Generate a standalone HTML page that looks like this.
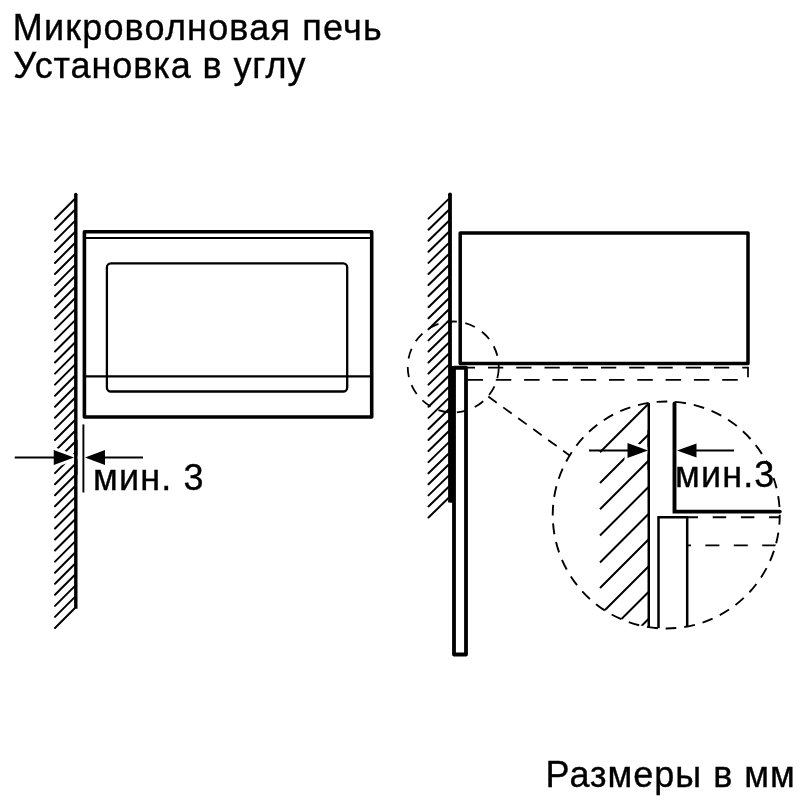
<!DOCTYPE html><html><head><meta charset="utf-8"><style>html,body{margin:0;padding:0;background:#fff;width:800px;height:800px;overflow:hidden}svg{display:block;will-change:transform}text{font-family:"Liberation Sans",sans-serif;fill:#000;stroke:#000;stroke-width:0.35px}</style></head><body>
<svg width="800" height="800" viewBox="0 0 800 800">
<rect width="800" height="800" fill="#fff"/>
<text x="12.8" y="40.2" font-size="36" letter-spacing="1.18">Микроволновая печь</text>
<text x="13.3" y="77.8" font-size="36" letter-spacing="0.9">Установка в углу</text>
<text x="545.6" y="786.8" font-size="36" letter-spacing="1">Размеры в мм</text>
<text x="93" y="489.5" font-size="36" letter-spacing="1.15">мин. 3</text>
<text x="675" y="486.5" font-size="36" letter-spacing="1.15">мин.3</text>
<g stroke="#000" fill="none">
<path d="M55 218.75L74.5 199.25M55 229.81L74.5 210.31M55 240.87L74.5 221.37M55 251.93L74.5 232.43M55 262.99L74.5 243.49M55 274.05L74.5 254.55M55 285.11L74.5 265.61M55 296.17L74.5 276.67M55 307.23L74.5 287.73M55 318.29L74.5 298.79M55 329.35L74.5 309.85M55 340.41L74.5 320.91M55 351.47L74.5 331.97M55 362.53L74.5 343.03M55 373.59L74.5 354.09M55 384.65L74.5 365.15M55 395.71L74.5 376.21M55 406.77L74.5 387.27M55 417.83L74.5 398.33M55 428.89L74.5 409.39M55 439.95L74.5 420.45M55 451.01L74.5 431.51M55 462.07L74.5 442.57M55 473.13L74.5 453.63M55 484.19L74.5 464.69M55 495.25L74.5 475.75M55 506.31L74.5 486.81M55 517.37L74.5 497.87M55 528.43L74.5 508.93M55 539.49L74.5 519.99M55 550.55L74.5 531.05M55 561.61L74.5 542.11M55 572.67L74.5 553.17M55 583.73L74.5 564.23M55 594.79L74.5 575.29M55 605.85L74.5 586.35M55 616.91L74.5 597.41M55 627.97L74.5 608.47" stroke-width="2" stroke-linecap="round"/>
<path d="M75.8 194.5V608.75" stroke-width="3.4"/><circle cx="75.8" cy="194.5" r="1.7" fill="#000" stroke="none"/>
<rect x="84.4" y="231.8" width="287.3" height="185.2" stroke-width="3.6" stroke-linejoin="round"/>
<path d="M84.4 238.1H371.7" stroke-width="2"/>
<rect x="106.9" y="263.4" width="240.3" height="128.1" rx="4" stroke-width="2.3"/>
<path d="M84.4 376.3H371.7" stroke-width="2.3"/>
<path d="M83.4 424.4V492.5" stroke-width="1.9"/>
</g>
<path d="M74 457.5L53.75 450V465Z" fill="#fff" stroke="#fff" stroke-width="6"/>
<path d="M75.8 440V475" stroke="#000" stroke-width="3.4"/>
<path d="M14.75 457.5H60M90 457.5H143" stroke="#000" stroke-width="2"/>
<path d="M74 457.5L53.75 450V465Z" fill="#000"/>
<path d="M85 457.5L105 450V465Z" fill="#000"/>
<g stroke="#000" fill="none">
<path d="M428.5 218.60L448.5 199.10M428.5 229.67L448.5 210.17M428.5 240.74L448.5 221.24M428.5 251.81L448.5 232.31M428.5 262.88L448.5 243.38M428.5 273.95L448.5 254.45M428.5 285.02L448.5 265.52M428.5 296.09L448.5 276.59M428.5 307.16L448.5 287.66M428.5 318.23L448.5 298.73M428.5 329.30L448.5 309.80M428.5 340.37L448.5 320.87M428.5 351.44L448.5 331.94M428.5 362.51L448.5 343.01M428.5 373.58L448.5 354.08M428.5 384.65L448.5 365.15M428.5 395.72L448.5 376.22M428.5 406.79L448.5 387.29M428.5 417.86L448.5 398.36M428.5 428.93L448.5 409.43M428.5 440.00L448.5 420.50M428.5 451.07L448.5 431.57M428.5 462.14L448.5 442.64M428.5 473.21L448.5 453.71M428.5 484.28L448.5 464.78M428.5 495.35L448.5 475.85M428.5 506.42L448.5 486.92M428.5 517.49L448.5 497.99" stroke-width="2" stroke-linecap="round"/>
<path d="M450 194.3V502.5" stroke-width="3.8"/><circle cx="450" cy="194.3" r="1.9" fill="#000" stroke="none"/><rect x="450" y="366" width="4" height="136.5" fill="#000" stroke="none"/>
<rect x="460.2" y="233" width="287.8" height="130.4" stroke-width="3.5" stroke-linejoin="round"/>
<rect x="454" y="367.75" width="12" height="286.75" stroke-width="3.8" stroke-linejoin="round"/>
<path d="M459.75 367.7H748V380" stroke-width="1.75" stroke-dasharray="15.25 13"/>
<path d="M467.5 379.75H748" stroke-width="1.75" stroke-dasharray="15.5 12.8"/>
<circle cx="453.25" cy="367" r="45.5" stroke-width="1.8" stroke-dasharray="10.2 8.56" stroke-dashoffset="-1.2"/>
<path d="M488.25 396.5L570 455.75" stroke-width="1.8" stroke-dasharray="10.5 8"/>
<circle cx="666.25" cy="515" r="113.5" stroke-width="1.9" stroke-dasharray="10.8 7.97" stroke-dashoffset="1"/>
</g>
<defs><clipPath id="cc"><circle cx="666.25" cy="515" r="113.5"/></clipPath></defs>
<g clip-path="url(#cc)" stroke="#000" fill="none">
<path d="M648.5 403.75L600 452.25M648.5 434.5L600 483.0M648.5 460.75L600 509.25M648.5 487L600 535.5M648.5 514L600 562.5M648.5 539.5L600 588.0M648.5 566.5L600 615.0M648.5 592L600 640.5M648.5 619L600 667.5" stroke-width="2"/>
<path d="M648.75 403V628.5L658.5 628.8V517.2H687.2V640" stroke-width="2.5"/>
<path d="M686 517.2H790" stroke-width="1.9" stroke-dasharray="13.5 14.7" stroke-dashoffset="1.5"/>
<path d="M686 545.4H790" stroke-width="1.9" stroke-dasharray="14 14.4" stroke-dashoffset="9"/>
</g>
<path d="M674.5 403.5V511.6H779.8" stroke="#000" fill="none" stroke-width="3.9" stroke-linecap="round"/>
<path d="M648 450.5L627.5 443V458Z" fill="#fff" stroke="#fff" stroke-width="6"/>
<path d="M648.75 430V470" stroke="#000" stroke-width="2.5"/>
<path d="M589 450.5H630M690 450.5H734" stroke="#000" stroke-width="2"/>
<path d="M648 450.5L627.5 443V458Z" fill="#000"/>
<path d="M677 450.5L696.5 443.5V457.5Z" fill="#000"/>
</svg></body></html>
